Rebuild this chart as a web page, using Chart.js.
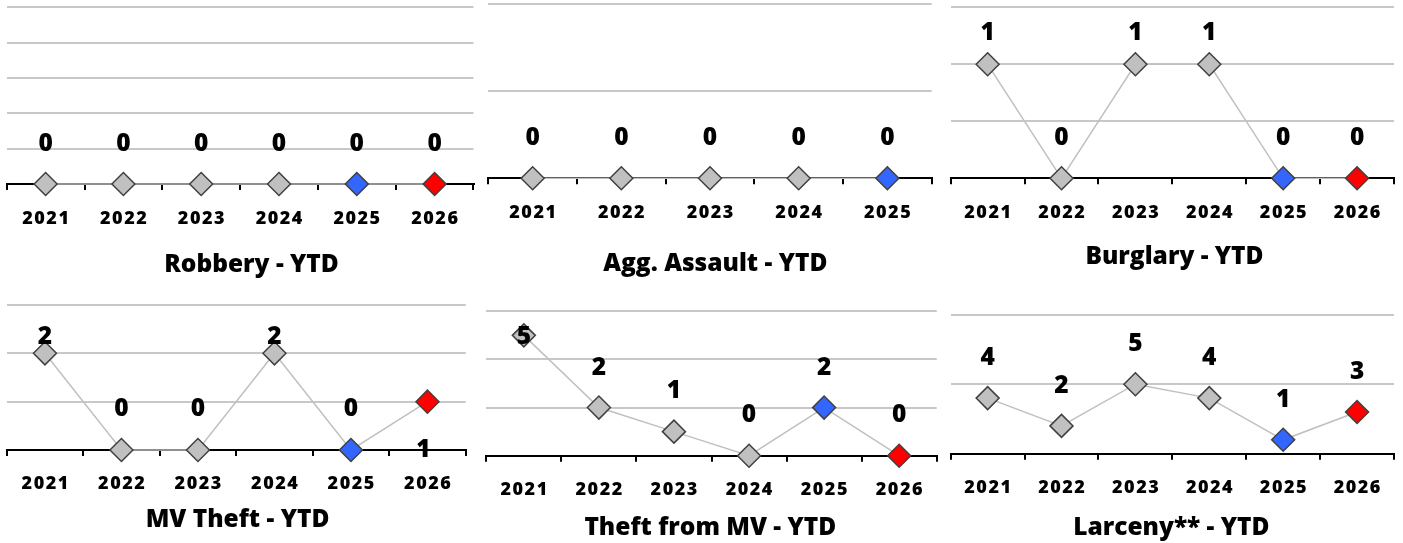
<!DOCTYPE html>
<html><head><meta charset="utf-8">
<script src="https://cdn.jsdelivr.net/npm/chart.js@4.4.1/dist/chart.umd.min.js"></script>
<style>
html,body{margin:0;padding:0;background:#fff;width:1403px;height:543px;overflow:hidden;position:relative;}
canvas{position:absolute;}
</style></head><body>
<script>
// ---- data ----
const years = ['2021','2022','2023','2024','2025','2026'];
const aggYears = ['2021','2022','2023','2024','2025'];
const robbery = [0,0,0,0,0,0];
const aggAssault = [0,0,0,0,0];
const burglary = [1,0,1,1,0,0];
const mvTheft = [2,0,0,2,0,1];
const theftFromMV = [5,2,1,0,2,0];
const larceny = [4,2,5,4,1,3];
const titles = ['Robbery - YTD','Agg. Assault - YTD','Burglary - YTD','MV Theft - YTD','Theft from MV - YTD','Larceny** - YTD'];

// ---- styles ----
const GRAY = '#c0c0c0', BLUE = '#3366ff', RED = '#ff0000';
const FONT = '"Open Sans"';
const WEIGHT = '800';
const TICK_FS = 18, LABEL_FS = 24.5, TITLE_FS = 24.5;
const CAP = 0.357;
const XH = 40;

const panels = [
  {title:titles[0], labels:years,    data:robbery,     max:5,   step:1,   L:6.7,   R:473.5, T:7.3,   B:184,   TX:251.5,  TY:264.7, tickOff:35},
  {title:titles[1], labels:aggYears, data:aggAssault,  max:2,   step:1,   L:488.3, R:931.7, T:4,     B:178.3, TX:715.3,  TY:264,   tickOff:34.7},
  {title:titles[2], labels:years,    data:burglary,    max:1.5, step:0.5, L:950.7, R:1394,  T:7.3,   B:178.3, TX:1174.5, TY:257,   tickOff:34.7, dy:[-33.5,-42,-33.5,-33.5,-42,-42]},
  {title:titles[3], labels:years,    data:mvTheft,     max:3,   step:1,   L:6.7,   R:465.7, T:305,   B:450,   TX:237.5,  TY:520,   tickOff:34,   dy:[-18,-43,-43,-18,-43,47], dx:[0,0,0,0,0,-4]},
  {title:titles[4], labels:years,    data:theftFromMV, max:6,   step:2,   L:486.3, R:936.7, T:311.3, B:455.7, TX:710.3,  TY:528,   tickOff:34.3, dy:[0,-41.5,-42.5,-42.5,-41.5,-42.5]},
  {title:titles[5], labels:years,    data:larceny,     max:10,  step:5,   L:950.7, R:1394,  T:314.7, B:453.7, TX:1171.3, TY:528,   tickOff:34.3},
];

const valueLabels = {
  id:'valueLabels',
  afterDatasetsDraw(chart, args, opts){
    const ctx = chart.ctx;
    const meta = chart.getDatasetMeta(0);
    const ds = chart.data.datasets[0];
    ctx.save();
    ctx.font = WEIGHT + ' ' + LABEL_FS + 'px ' + FONT;
    ctx.fillStyle = '#000';
    ctx.textAlign = 'center';
    ctx.textBaseline = 'alphabetic';
    meta.data.forEach((pt, i) => {
      const dy = opts.dy ? opts.dy[i] : -42;
      const dx = opts.dx ? opts.dx[i] : 0;
      ctx.fillText(String(ds.data[i]), pt.x + dx, pt.y + dy + CAP * LABEL_FS);
    });
    ctx.restore();
  }
};

const spacedTicks = {
  id:'spacedTicks',
  beforeDraw(chart){
    const s = chart.scales.x;
    if (s && !s._spaced) {
      const orig = s.drawLabels;
      s.drawLabels = function(a){
        const c = this.ctx;
        c.save();
        c.letterSpacing = '1.5px';
        c.translate(0.75, 0);
        orig.call(this, a);
        c.restore();
      };
      s._spaced = true;
    }
  }
};

panels.forEach(p => {
  const s = 2 * p.TX - p.L - p.R;
  const wl = s < 0 ? -s : 0, wr = s > 0 ? s : 0;
  const cx0 = Math.floor(p.L - wl - 4);
  const cx1 = Math.ceil(p.R + wr + 4);
  const cy0 = Math.floor(p.T - 6);
  const pl = p.L - wl - cx0, pr = cx1 - p.R - wr, pt = p.T - cy0;
  const tLH = TITLE_FS * 1.2;
  const tPadTop = p.TY - p.B - XH - tLH / 2;
  const H = Math.ceil((p.B - cy0) + XH + tPadTop + tLH + 4);
  const W = cx1 - cx0;
  const cv = document.createElement('canvas');
  cv.width = W; cv.height = H;
  cv.style.left = cx0 + 'px'; cv.style.top = cy0 + 'px';
  cv.style.width = W + 'px'; cv.style.height = H + 'px';
  document.body.appendChild(cv);
  const padB = H - ((p.B - cy0) + XH + tPadTop + tLH + 4);
  const colors = p.labels.map(y => y === '2025' ? BLUE : (y === '2026' ? RED : GRAY));
  new Chart(cv, {
    type:'line',
    data:{
      labels:p.labels,
      datasets:[{
        data:p.data,
        borderColor:GRAY,
        borderWidth:1.5,
        pointStyle:'rectRot',
        pointRadius:11.5,
        pointHoverRadius:11.5,
        pointBackgroundColor:colors,
        pointBorderColor:'#404040',
        pointBorderWidth:1.5,
        clip:false,
        tension:0
      }]
    },
    options:{
      responsive:false,
      animation:false,
      devicePixelRatio:1,
      events:[],
      layout:{autoPadding:false, padding:{left:pl, right:pr, top:pt, bottom:4 + padB}},
      plugins:{
        legend:{display:false},
        tooltip:{enabled:false},
        title:{display:true, text:p.title, position:'bottom', color:'#000',
               font:{family:FONT, size:TITLE_FS, weight:WEIGHT, lineHeight:1.2},
               padding:{top:tPadTop, bottom:0}},
        valueLabels:{dy:p.dy, dx:p.dx}
      },
      scales:{
        x:{
          type:'category',
          offset:true,
          grid:{offset:true, drawOnChartArea:false, drawTicks:true, tickLength:6, color:'#000', lineWidth:2},
          border:{display:true, color:'#000', width:2},
          ticks:{color:'#000', font:{family:FONT, size:TICK_FS, weight:WEIGHT, lineHeight:1.2},
                 padding:p.tickOff - 6 - TICK_FS * 0.6, autoSkip:false, maxRotation:0},
          afterFit:(sc) => { sc.height = XH; }
        },
        y:{
          min:0, max:p.max,
          ticks:{display:false, stepSize:p.step},
          border:{display:false},
          grid:{drawTicks:false, lineWidth:2, color:(c) => c.tick && c.tick.value === 0 ? 'rgba(0,0,0,0)' : '#c8c8c8'},
          afterFit:(sc) => { sc.width = wl; }
        },
        y2:{
          position:'right', display:true, min:0, max:1,
          ticks:{display:false}, border:{display:false}, grid:{display:false},
          afterFit:(sc) => { sc.width = wr; }
        }
      }
    },
    plugins:[valueLabels, spacedTicks]
  });
});
</script>
</body></html>
